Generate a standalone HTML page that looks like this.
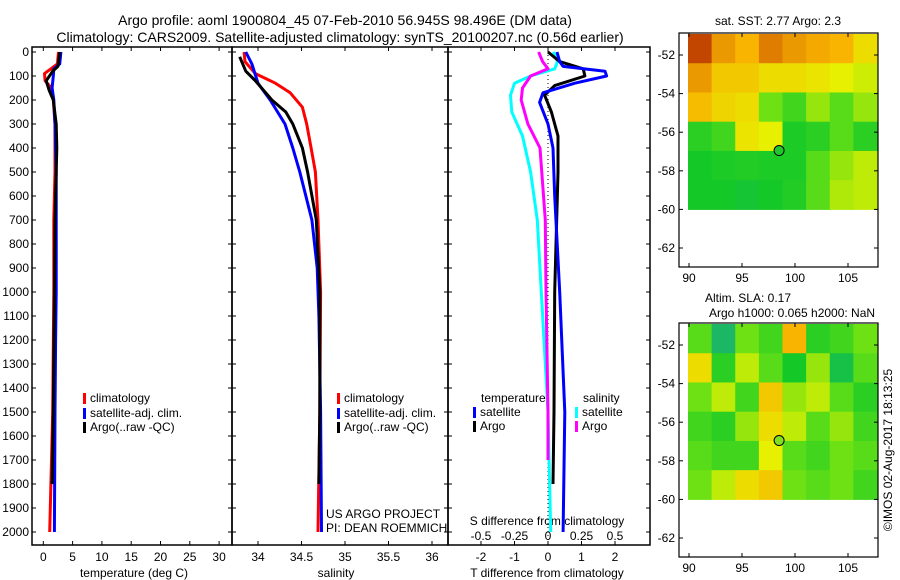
<!DOCTYPE html>
<html><head><meta charset="utf-8"><style>
body{margin:0;background:#fff;}
svg{display:block;font-family:"Liberation Sans",sans-serif;}
text{fill:#000;font-size:12px;}
</style></head><body>
<svg id="c" width="900" height="580" viewBox="0 0 900 580">
<text x="345" y="25" text-anchor="middle" style="font-size:14px">Argo profile: aoml 1900804_45 07-Feb-2010 56.945S 98.496E (DM data)</text>
<text x="340" y="42" text-anchor="middle" style="font-size:14px">Climatology: CARS2009. Satellite-adjusted climatology: synTS_20100207.nc (0.56d earlier)</text>
<g id="g"></g>
</svg>
<script>
// ---- data ----
const depthTicks=[0,100,200,300,400,500,600,700,800,900,1000,1100,1200,1300,1400,1500,1600,1700,1800,1900,2000];
const tTicks=[0,5,10,15,20,25,30];
const sTicks=[34,34.5,35,35.5,36];
const dTTicks=[-2,-1,0,1,2];
const dSTicks=[-0.5,-0.25,0,0.25,0.5];
const lonTicks=[90,95,100,105];
const latTicks=[-52,-54,-56,-58,-60,-62];

const tClimDepth=[0,50,90,120,150,200,300,500,700,1000,1500,1800,2000];
const tClim=[2.6,2.4,0.2,0.3,1.4,1.7,2.0,2.0,1.8,1.8,1.6,1.3,1.1];
const tArgoDepth=[0,60,80,120,160,200,300,400,700,1000,1500,1800];
const tArgo=[2.8,2.5,1.6,0.5,1.0,1.7,2.2,2.3,2.0,1.9,1.7,1.5];
const tSatDepth=[0,50,70,100,150,200,300,500,700,1000,1200,1500,2000];
const tSat=[3.0,2.8,1.8,1.7,1.5,1.8,2.0,2.2,2.2,2.2,2.1,2.0,1.9];

const sClimDepth=[0,40,90,130,170,230,300,400,500,700,1000,1500,2000];
const sClim=[33.84,33.85,33.97,34.20,34.37,34.51,34.56,34.61,34.66,34.69,34.72,34.71,34.69];
const sArgoDepth=[20,80,120,200,250,300,400,500,700,1000,1500,1800];
const sArgo=[33.79,33.86,33.97,34.16,34.32,34.40,34.51,34.57,34.67,34.71,34.71,34.70];
const sSatDepth=[0,50,130,200,300,400,500,700,900,1100,1500,2000];
const sSat=[33.86,33.93,34.0,34.14,34.31,34.40,34.48,34.62,34.68,34.70,34.72,34.73];

const dTSatDepth=[0,40,60,80,100,130,170,210,300,400,600,1000,1500,2000];
const dTSat=[0.27,0.35,0.45,1.7,1.75,0.8,-0.15,-0.25,0,0.15,0.2,0.35,0.5,0.45];
const dTArgoDepth=[0,40,70,100,140,180,250,350,500,1000,1500,1800];
const dTArgo=[0,0.35,1.05,1.1,0.2,-0.1,0.1,0.3,0.3,0.2,0.18,0.15];
const dSSatDepth=[0,40,70,100,130,180,250,350,500,700,1000,1500,2000];
const dSSat=[0.04,0.07,0.05,-0.13,-0.25,-0.28,-0.27,-0.19,-0.13,-0.08,-0.05,0,0.02];
const dSArgoDepth=[0,40,70,100,150,200,300,400,700,1000,1500,1700];
const dSArgo=[-0.07,-0.04,0.0,-0.13,-0.19,-0.2,-0.15,-0.06,-0.02,-0.015,0,0];

const sstGrid=[
[1.0,0.85,0.8,0.9,0.85,0.82,0.8,0.7],
[0.85,0.75,0.75,0.7,0.7,0.68,0.65,0.62],
[0.78,0.72,0.7,0.5,0.4,0.55,0.45,0.55],
[0.35,0.4,0.68,0.65,0.32,0.35,0.45,0.35],
[0.3,0.32,0.33,0.32,0.32,0.45,0.55,0.6],
[0.3,0.3,0.28,0.3,0.33,0.45,0.58,0.6]];
const slaGrid=[
[0.45,0.2,0.5,0.4,0.8,0.35,0.4,0.5],
[0.7,0.35,0.6,0.45,0.3,0.55,0.25,0.45],
[0.5,0.6,0.4,0.75,0.55,0.6,0.45,0.35],
[0.4,0.35,0.55,0.7,0.6,0.45,0.55,0.4],
[0.45,0.4,0.4,0.65,0.45,0.4,0.5,0.45],
[0.5,0.6,0.7,0.75,0.5,0.45,0.5,0.4]];
const floatLon=[98.5];
const floatLat=[-56.95];

// ---- drawing ----
const NS='http://www.w3.org/2000/svg';
const G=document.getElementById('g');
function el(t,a,p){const e=document.createElementNS(NS,t);for(const k in a)e.setAttribute(k,a[k]);(p||G).appendChild(e);return e;}
function txt(x,y,s,anchor,extra){const e=el('text',Object.assign({x:x,y:y,'text-anchor':anchor||'start'},extra||{}));e.textContent=s;return e;}
const Y=d=>52+d*0.24;
const PT=[32,232],PS=[232,448],PD=[448,650],TOP=47,BOT=545;
const xT=v=>43.3+v*5.86, xS=v=>258+(v-34)*87, xdT=v=>548+v*33.5, xdS=v=>548+v*134;

function frame(P,name){
  const r=el('rect',{x:P[0],y:TOP,width:P[1]-P[0],height:BOT-TOP,fill:'none',stroke:'#000','stroke-width':1.5});
  
  
  depthTicks.forEach(d=>{el('line',{x1:P[0],x2:P[0]+4,y1:Y(d),y2:Y(d),stroke:'#000'});el('line',{x1:P[1],x2:P[1]-4,y1:Y(d),y2:Y(d),stroke:'#000'});});
}
frame(PT,'temperature-panel');frame(PS,'salinity-panel');frame(PD,'difference-panel');
depthTicks.forEach(d=>{const t=txt(29,Y(d)+4,String(d),'end');

});
tTicks.forEach(v=>{el('line',{x1:xT(v),x2:xT(v),y1:TOP,y2:TOP+4,stroke:'#000'});el('line',{x1:xT(v),x2:xT(v),y1:BOT,y2:BOT-4,stroke:'#000'});
const t=txt(xT(v),561,String(v),'middle');});
sTicks.forEach(v=>{el('line',{x1:xS(v),x2:xS(v),y1:TOP,y2:TOP+4,stroke:'#000'});el('line',{x1:xS(v),x2:xS(v),y1:BOT,y2:BOT-4,stroke:'#000'});
const t=txt(xS(v),561,String(v),'middle');});
dTTicks.forEach(v=>{el('line',{x1:xdT(v),x2:xdT(v),y1:TOP,y2:TOP+4,stroke:'#000'});el('line',{x1:xdT(v),x2:xdT(v),y1:BOT,y2:BOT-4,stroke:'#000'});
const t=txt(xdT(v),561,String(v),'middle');});
dSTicks.forEach(v=>{const t=txt(xdS(v),540,String(v),'middle');});
let t;
t=txt(134,577,'temperature (deg C)','middle');
t=txt(336,577,'salinity','middle');
t=txt(547,577,'T difference from climatology','middle');
t=txt(547,525,'S difference from climatology','middle');
el('line',{x1:548,x2:548,y1:TOP,y2:BOT,stroke:'#000','stroke-dasharray':'1,3'});

function line(xs,ds,fx,col,name){
  const pts=xs.map((v,i)=>fx(v).toFixed(1)+','+Y(ds[i]).toFixed(1)).join(' ');
  const p=el('polyline',{points:pts,fill:'none',stroke:col,'stroke-width':3,'stroke-linejoin':'round'});
  
  
}
line(tClim,tClimDepth,xT,'#f00','temp-climatology-line');
line(tSat,tSatDepth,xT,'#00f','temp-satellite-line');
line(tArgo,tArgoDepth,xT,'#000','temp-argo-line');
line(sClim,sClimDepth,xS,'#f00','sal-climatology-line');
line(sSat,sSatDepth,xS,'#00f','sal-satellite-line');
line(sArgo,sArgoDepth,xS,'#000','sal-argo-line');
line(dSSat,dSSatDepth,xdS,'#0ff','s-diff-satellite-line');
line(dSArgo,dSArgoDepth,xdS,'#f0f','s-diff-argo-line');
line(dTArgo,dTArgoDepth,xdT,'#000','t-diff-argo-line');
line(dTSat,dTSatDepth,xdT,'#00f','t-diff-satellite-line');

function legend(x,y,col,label,name){
  const r=el('rect',{x:x,y:y-9,width:3,height:11,fill:col});
  
  
  const t=txt(x+7,y,label);
  
  
}
[[PT[0]+51,'legend1'],[PS[0]+105,'legend2']].forEach(([x,n])=>{
  legend(x,402,'#f00','climatology',n+'-climatology');
  legend(x,417,'#00f','satellite-adj. clim.',n+'-satellite');
  legend(x,431,'#000','Argo(..raw -QC)',n+'-argo');
});
t=txt(481,402,'temperature');
t=txt(583,402,'salinity');
legend(473,416,'#00f','satellite','legend3-t-satellite');
legend(473,430,'#000','Argo','legend3-t-argo');
legend(575,416,'#0ff','satellite','legend3-s-satellite');
legend(575,430,'#f0f','Argo','legend3-s-argo');
t=txt(326,518,'US ARGO PROJECT');
t=txt(326,532,'PI: DEAN ROEMMICH');

// maps
function cmap(v){
  const stops=[[0,[40,150,220]],[0.3,[20,200,40]],[0.5,[110,225,20]],[0.65,[230,240,0]],[0.8,[248,180,0]],[1,[195,70,0]]];
  for(let i=1;i<stops.length;i++){if(v<=stops[i][0]){const a=stops[i-1],b=stops[i],f=(v-a[0])/(b[0]-a[0]);
    return 'rgb('+a[1].map((c,j)=>Math.round(c+(b[1][j]-c)*f)).join(',')+')';}}
  return 'rgb(195,70,0)';
}
function map(top,grid,name,dotCol){
  const L=679,R=878,B=top+234;
  const lonX=v=>689+(v-90)*10.6, latY=v=>top+22+(-52-v)*19.3;
  const x0=688,x1=877,y0=top+1,y1=latY(-60);
  const rows=grid.length,cols=grid[0].length,cw=(x1-x0)/cols,ch=(y1-y0)/rows;
  grid.forEach((row,i)=>row.forEach((v,j)=>{
    const c=el('rect',{x:x0+j*cw,y:y0+i*ch,width:cw+0.5,height:ch+0.5,fill:cmap(v)});
    
    
  }));
  const f=el('rect',{x:L,y:top,width:R-L,height:B-top,fill:'none',stroke:'#000','stroke-width':1.2});
  
  
  lonTicks.forEach(v=>{el('line',{x1:lonX(v),x2:lonX(v),y1:B,y2:B-4,stroke:'#000'});el('line',{x1:lonX(v),x2:lonX(v),y1:top,y2:top+4,stroke:'#000'});
    const t=txt(lonX(v),B+15,String(v),'middle');});
  latTicks.forEach(v=>{el('line',{x1:L,x2:L+4,y1:latY(v),y2:latY(v),stroke:'#000'});el('line',{x1:R,x2:R-4,y1:latY(v),y2:latY(v),stroke:'#000'});
    const t=txt(L-4,latY(v)+4,String(v),'end');});
  const d=el('circle',{cx:lonX(floatLon[0]),cy:latY(floatLat[0]),r:5,fill:dotCol,stroke:'#000','stroke-width':1});
  
  
}
map(33,sstGrid,'sst-map','#20c830');
map(323,slaGrid,'sla-map','#80e020');
t=txt(778,25,'sat. SST: 2.77 Argo: 2.3','middle');
t=txt(748,302,'Altim. SLA: 0.17','middle');
t=txt(792,317,'Argo h1000: 0.065 h2000: NaN','middle');
t=txt(0,0,'©IMOS 02-Aug-2017 18:13:25','middle',{transform:'translate(892,450) rotate(-90)'});
</script>
</body></html>
